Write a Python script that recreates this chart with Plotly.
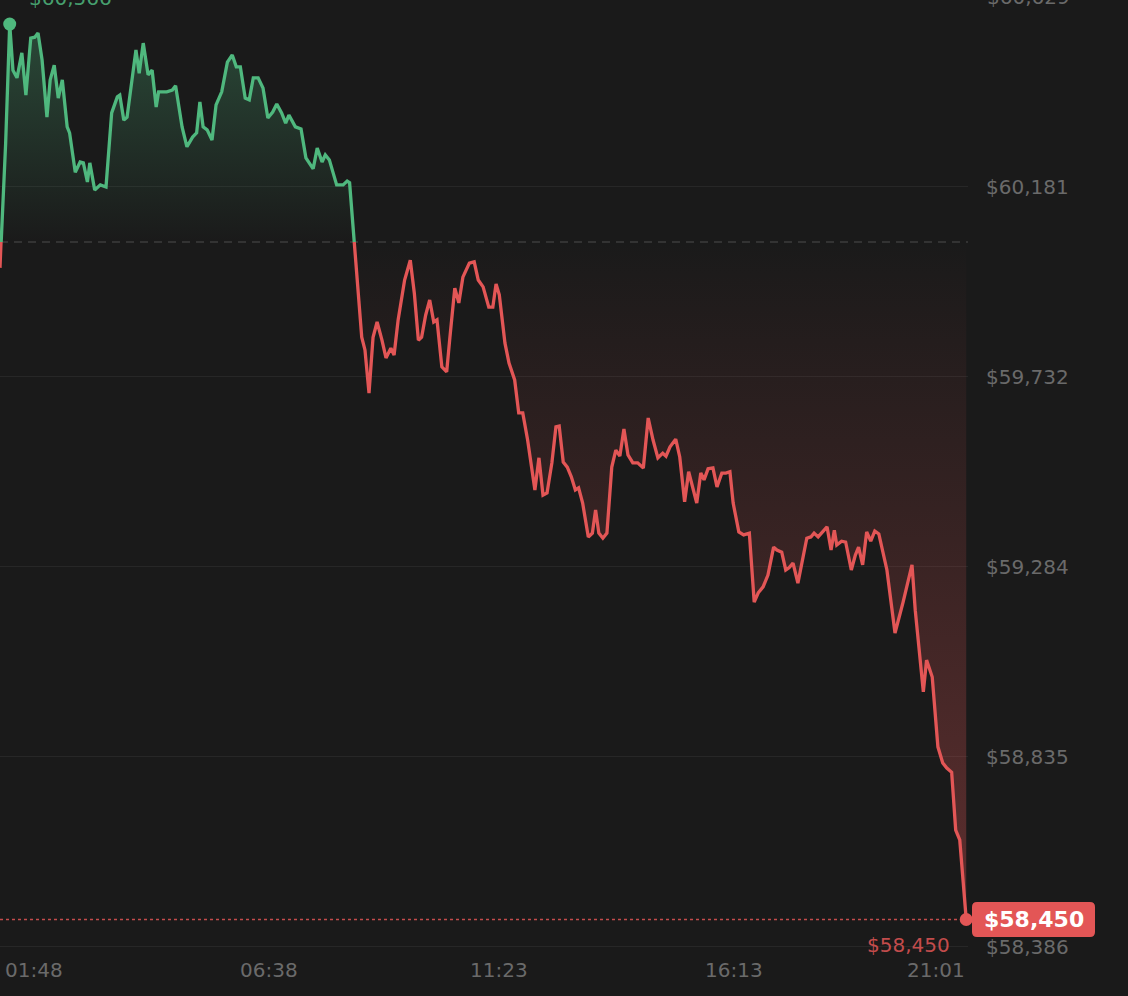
import plotly.graph_objects as go

# ---------------- data ----------------
# time of each point, minutes after 00:00
minutes = [66, 73, 78, 82, 87, 93, 98, 104, 109, 113, 118, 124, 128, 133, 138, 143, 149, 152, 159, 165,
           169, 174, 177, 183, 190, 197, 204, 211, 214, 219, 223, 229, 234, 238, 243, 249, 254, 259, 262, 272,
           279, 283, 291, 297, 304, 309, 313, 317, 322, 328, 333, 340, 347, 353, 358, 363, 369, 374, 379, 385,
           391, 397, 403, 408, 414, 419, 423, 431, 438, 444, 453, 458, 464, 468, 473, 482, 490, 495, 498, 513,
           517, 522, 527, 532, 538, 543, 549, 553, 558, 566, 573, 578, 583, 587, 592, 597, 602, 606, 612, 618,
           622, 628, 633, 638, 646, 652, 657, 663, 670, 675, 679, 683, 690, 695, 702, 707, 712, 718, 727, 732,
           737, 742, 748, 753, 757, 762, 767, 772, 777, 781, 786, 793, 798, 802, 806, 811, 816, 822, 827, 832,
           837, 842, 848, 854, 861, 867, 873, 879, 885, 889, 894, 901, 906, 912, 917, 922, 927, 932, 936, 941,
           947, 952, 958, 963, 968, 972, 979, 985, 992, 998, 1003, 1009, 1015, 1022, 1026, 1032, 1037, 1041, 1046, 1052,
           1058, 1063, 1068, 1072, 1077, 1083, 1088, 1093, 1097, 1100, 1106, 1111, 1118, 1123, 1127, 1132, 1137, 1142, 1147, 1152,
           1162, 1172, 1182, 1193, 1197, 1207, 1211, 1218, 1225, 1231, 1236, 1242, 1247, 1252, 1260]

prices = [59990, 60285, 60566, 60457, 60439, 60498, 60398, 60533, 60535, 60545, 60481, 60346, 60434, 60469, 60391, 60434, 60323, 60309, 60216, 60240,
          60238, 60193, 60238, 60174, 60186, 60181, 60356, 60394, 60398, 60339, 60346, 60441, 60505, 60450, 60521, 60446, 60457, 60370, 60406, 60406,
          60410, 60420, 60323, 60276, 60299, 60309, 60382, 60323, 60316, 60292, 60375, 60406, 60476, 60493, 60465, 60465, 60391, 60387, 60439, 60439,
          60415, 60344, 60358, 60377, 60356, 60332, 60351, 60323, 60318, 60250, 60224, 60273, 60240, 60257, 60245, 60186, 60186, 60195, 60191, 59826,
          59796, 59694, 59826, 59862, 59819, 59777, 59800, 59784, 59867, 59961, 60008, 59930, 59819, 59826, 59878, 59914, 59862, 59867, 59756, 59744,
          59826, 59942, 59907, 59968, 60001, 60004, 59961, 59945, 59897, 59897, 59952, 59926, 59812, 59765, 59725, 59647, 59647, 59583, 59465, 59541,
          59453, 59458, 59529, 59614, 59616, 59531, 59519, 59496, 59465, 59470, 59434, 59354, 59363, 59418, 59363, 59351, 59363, 59519, 59559, 59545,
          59609, 59548, 59529, 59529, 59517, 59635, 59583, 59541, 59552, 59545, 59567, 59585, 59543, 59437, 59508, 59470, 59434, 59505, 59489, 59515,
          59517, 59472, 59505, 59505, 59508, 59434, 59366, 59359, 59363, 59200, 59222, 59236, 59264, 59330, 59323, 59318, 59276, 59281, 59292, 59245,
          59300, 59351, 59354, 59363, 59354, 59366, 59378, 59323, 59370, 59335, 59344, 59342, 59276, 59311, 59330, 59288, 59366, 59344, 59368, 59361,
          59276, 59127, 59200, 59288, 59181, 58988, 59063, 59023, 58858, 58820, 58808, 58798, 58661, 58638, 58450]

open_price = 60051                       # dashed reference line
y_tick_vals = [58386, 58835, 59284, 59732, 60181, 60629]
y_tick_text = ["$58,386", "$58,835", "$59,284", "$59,732", "$60,181", "$60,629"]
x_tick_vals = [108, 398, 683, 973, 1261]
x_tick_text = ["01:48", "06:38", "11:23", "16:13", "21:01"]
x_range = [66, 1262.2]
y_range = [58382.6, 60622.9]

# ---------------- style ----------------
BG = "#1a1a1a"
GREEN = "#4fb87e"
RED = "#e35656"
GRID = "rgba(255,255,255,0.06)"
LABEL = "#6a6a6a"
FONT = "DejaVu Sans"
W, H = 1128, 996
M_L, M_R, M_T, M_B = 0, 160, 0, 48
plot_h = H - M_T - M_B
LW = 3.3

lo, hi = y_range
split = (open_price - lo) / (hi - lo)

hi_idx = prices.index(max(prices))
last_t, last_p = minutes[-1], prices[-1]
base_line = [open_price] * len(minutes)

fig = go.Figure()

# anchor trace for the main (grid) subplot
fig.add_trace(go.Scatter(x=minutes, y=prices, mode="none", hoverinfo="skip",
                         showlegend=False, xaxis="x", yaxis="y"))

# red part (below open) on y2
fig.add_trace(go.Scatter(x=minutes, y=base_line, mode="lines", line=dict(width=0),
                         hoverinfo="skip", showlegend=False, xaxis="x", yaxis="y2"))
fig.add_trace(go.Scatter(x=minutes, y=prices, mode="lines",
                         line=dict(color=RED, width=LW, shape="linear"),
                         fill="tonexty",
                         fillgradient=dict(type="vertical", start=min(prices), stop=open_price,
                                           colorscale=[[0, "rgba(227,86,86,0.34)"],
                                                       [1, "rgba(227,86,86,0.0)"]]),
                         hoverinfo="skip", showlegend=False, xaxis="x", yaxis="y2"))

# green part (above open) on y3
fig.add_trace(go.Scatter(x=minutes, y=base_line, mode="lines", line=dict(width=0),
                         hoverinfo="skip", showlegend=False, xaxis="x", yaxis="y3"))
fig.add_trace(go.Scatter(x=minutes, y=prices, mode="lines",
                         line=dict(color=GREEN, width=LW, shape="linear"),
                         fill="tonexty",
                         fillgradient=dict(type="vertical", start=open_price, stop=max(prices),
                                           colorscale=[[0, "rgba(79,184,126,0.0)"],
                                                       [1, "rgba(79,184,126,0.3)"]]),
                         hoverinfo="skip", showlegend=False, xaxis="x", yaxis="y3"))

# dots: high and last
fig.add_trace(go.Scatter(x=[minutes[hi_idx]], y=[prices[hi_idx]], mode="markers",
                         marker=dict(color=GREEN, size=13), cliponaxis=False,
                         hoverinfo="skip", showlegend=False, xaxis="x", yaxis="y3"))
fig.add_trace(go.Scatter(x=[last_t], y=[last_p], mode="markers",
                         marker=dict(color=RED, size=13), cliponaxis=False,
                         hoverinfo="skip", showlegend=False, xaxis="x", yaxis="y2"))

# reference lines
fig.add_shape(type="line", xref="paper", x0=0, x1=1, yref="y", y0=open_price, y1=open_price,
              line=dict(color="#3c3c3c", width=1.5, dash="8px,6px"), layer="below")
fig.add_shape(type="line", xref="x", x0=minutes[0], x1=last_t, yref="y", y0=last_p, y1=last_p,
              line=dict(color="rgba(227,86,86,0.85)", width=1.5, dash="dot"), layer="above")

# last price badge (rounded rectangle)
bw0, bw1, bh, r = 4, 127, 17.5, 5
badge = (f"M {bw0+r},{bh} L {bw1-r},{bh} Q {bw1},{bh} {bw1},{bh-r} "
         f"L {bw1},{-bh+r} Q {bw1},{-bh} {bw1-r},{-bh} L {bw0+r},{-bh} "
         f"Q {bw0},{-bh} {bw0},{-bh+r} L {bw0},{bh-r} Q {bw0},{bh} {bw0+r},{bh} Z")
fig.add_shape(type="path", path=badge, xref="paper", yref="y",
              xsizemode="pixel", ysizemode="pixel", xanchor=1, yanchor=last_p,
              fillcolor=RED, line=dict(width=0), layer="above")

annotations = [
    dict(text=f"${last_p:,}", xref="paper", x=1, yref="y", y=last_p, xanchor="center",
         yanchor="middle", xshift=65.5, showarrow=False,
         font=dict(family=FONT, size=22, color="white", weight="bold")),
    dict(text=f"${prices[hi_idx]:,}", xref="x", x=minutes[hi_idx], yref="y", y=prices[hi_idx],
         xanchor="left", yanchor="middle", xshift=17, yshift=26, showarrow=False,
         font=dict(family=FONT, size=20, color="rgba(79,184,126,0.85)")),
    dict(text=f"${min(prices):,}", xref="x", x=last_t, yref="y", y=min(prices),
         xanchor="right", yanchor="middle", xshift=-14, yshift=-26, showarrow=False,
         font=dict(family=FONT, size=20, color="rgba(227,86,86,0.85)")),
]
# x-axis labels
for i, (tv, tt) in enumerate(zip(x_tick_vals, x_tick_text)):
    annotations.append(dict(text=tt, xref="x", x=tv, yref="paper", y=0, yanchor="middle",
                            xanchor="right" if i == len(x_tick_vals) - 1 else "center",
                            yshift=-22, showarrow=False,
                            font=dict(family=FONT, size=20, color=LABEL)))
# y tick labels beyond the visible range (cut by the top edge, as in the reference)
for tv, tt in zip(y_tick_vals, y_tick_text):
    if tv > hi:
        annotations.append(dict(text=tt, xref="paper", x=1, yref="y", y=hi, xanchor="left",
                                yanchor="middle", xshift=17,
                                yshift=(tv - hi) / (hi - lo) * plot_h, showarrow=False,
                                font=dict(family=FONT, size=20, color=LABEL)))

in_vals = [v for v in y_tick_vals if lo <= v <= hi]
in_text = [t for v, t in zip(y_tick_vals, y_tick_text) if lo <= v <= hi]

fig.update_layout(
    width=W, height=H,
    margin=dict(l=M_L, r=M_R, t=M_T, b=M_B, pad=0),
    paper_bgcolor=BG, plot_bgcolor="rgba(0,0,0,0)",
    showlegend=False,
    xaxis=dict(range=x_range, anchor="y", showgrid=False, zeroline=False,
               showticklabels=False, ticks="", showline=False, fixedrange=True),
    yaxis=dict(range=y_range, domain=[0, 1], side="right", anchor="x",
               tickmode="array", tickvals=in_vals, ticktext=in_text,
               showgrid=True, gridcolor=GRID, gridwidth=1, zeroline=False,
               showline=False, ticks="", ticklabelstandoff=17,
               tickfont=dict(family=FONT, size=20, color=LABEL)),
    yaxis2=dict(range=[lo, open_price], domain=[0, split], anchor="x", visible=False,
                showgrid=False, zeroline=False),
    yaxis3=dict(range=[open_price, hi], domain=[split, 1], anchor="x", visible=False,
                showgrid=False, zeroline=False),
    annotations=annotations,
    hovermode=False,
)

fig.write_html("out.html")
